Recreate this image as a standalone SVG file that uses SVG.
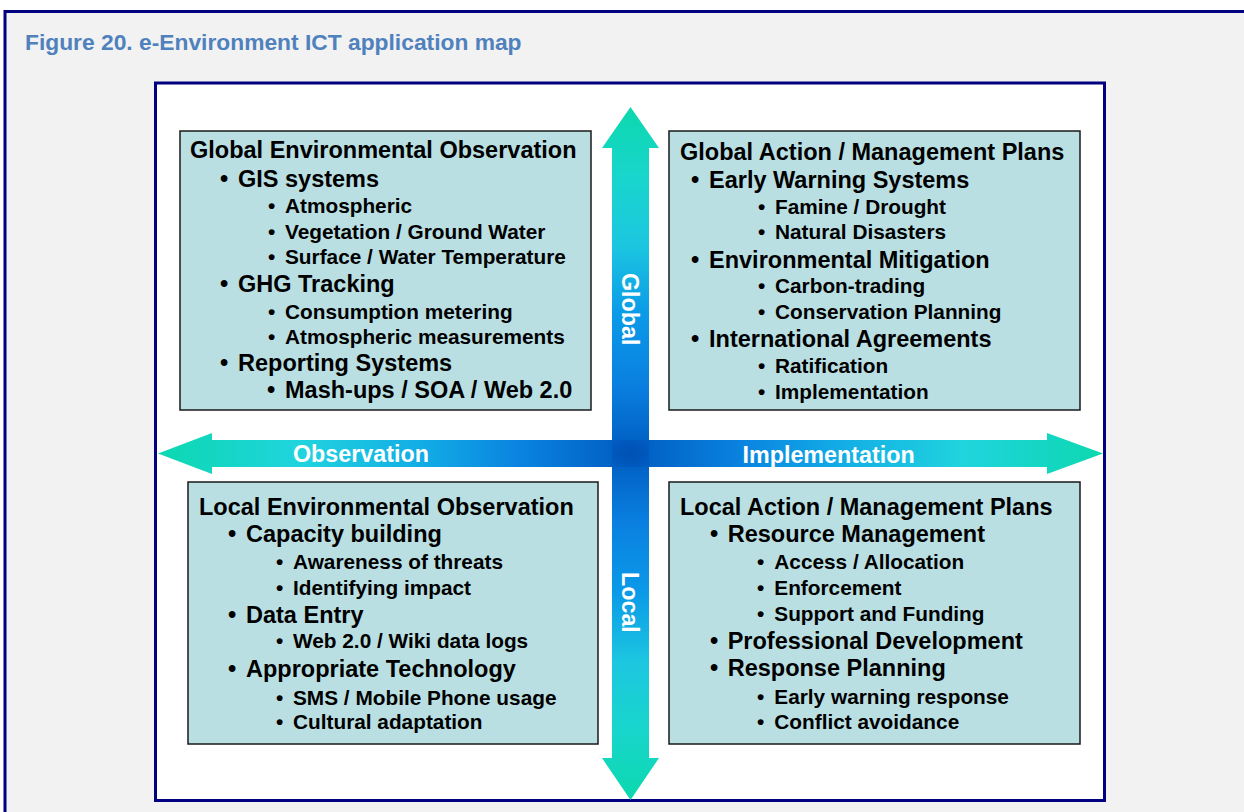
<svg xmlns="http://www.w3.org/2000/svg" width="1244" height="812" viewBox="0 0 1244 812">
  <defs>
    <style>
      text { font-family: "Liberation Sans", Arial, sans-serif; font-weight: bold; }
      .title { font-size: 22.8px; fill: #4f81bd; }
      .hd { font-size: 23.5px; fill: #000; }
      .mn { font-size: 23.5px; fill: #000; }
      .sb { font-size: 20.8px; fill: #000; }
      .lbl { font-size: 23.3px; fill: #ffffff; }
      .box { fill: #b9dfe3; stroke: #1a1a1a; stroke-width: 1.5; }
    </style>
    <linearGradient id="gv" gradientUnits="userSpaceOnUse" x1="0" y1="107" x2="0" y2="800">
      <stop offset="0" stop-color="#0cd8ae"/>
      <stop offset="0.1" stop-color="#18d6cc"/>
      <stop offset="0.2" stop-color="#1cc6e0"/>
      <stop offset="0.3" stop-color="#0a9ae8"/>
      <stop offset="0.4" stop-color="#0a80e0"/>
      <stop offset="0.5" stop-color="#005cc0"/>
      <stop offset="0.6" stop-color="#0a80e0"/>
      <stop offset="0.7" stop-color="#0a9ae8"/>
      <stop offset="0.8" stop-color="#1cc6e0"/>
      <stop offset="0.9" stop-color="#18d6cc"/>
      <stop offset="1" stop-color="#0cd8ae"/>
    </linearGradient>
    <linearGradient id="gh" gradientUnits="userSpaceOnUse" x1="158" y1="0" x2="1103" y2="0">
      <stop offset="0" stop-color="#0cd8b0"/>
      <stop offset="0.15" stop-color="#20d4de"/>
      <stop offset="0.28" stop-color="#12ace6"/>
      <stop offset="0.38" stop-color="#0a84e0"/>
      <stop offset="0.5" stop-color="#005cc0"/>
      <stop offset="0.62" stop-color="#0a84e0"/>
      <stop offset="0.72" stop-color="#12ace6"/>
      <stop offset="0.85" stop-color="#20d4de"/>
      <stop offset="1" stop-color="#0cd8b0"/>
    </linearGradient>
    <radialGradient id="gc" cx="630.5" cy="453.5" r="30" gradientUnits="userSpaceOnUse">
      <stop offset="0" stop-color="#0050b4" stop-opacity="0.9"/>
      <stop offset="1" stop-color="#0050b4" stop-opacity="0"/>
    </radialGradient>
  </defs>

  <rect x="0" y="0" width="1244" height="812" fill="#ffffff"/>
  <rect x="5" y="11.5" width="1260" height="820" fill="#f2f2f2" stroke="#000080" stroke-width="3"/>
  <text class="title" x="25" y="50">Figure 20. e-Environment ICT application map</text>

  <rect id="panel" x="155.5" y="83" width="949" height="717.5" fill="#ffffff" stroke="#000080" stroke-width="3"/>

  <g id="connectors">
    <path fill="url(#gh)" d="M158,453.5 L212,433 L212,440 L1047,440 L1047,433 L1103,453.5 L1047,474 L1047,467 L212,467 L212,474 Z"/>
    <path fill="url(#gv)" d="M630.5,107 L659,148 L649,148 L649,758 L659,758 L630.5,800 L602,758 L612,758 L612,148 L602,148 Z"/>
    <path fill="url(#gc)" d="M612,440 L649,440 L649,467 L612,467 Z"/>
    <text class="lbl" x="293" y="461.5">Observation</text>
    <text class="lbl" x="742.5" y="462.5">Implementation</text>
    <text class="lbl" transform="translate(622,273) rotate(90)">Global</text>
    <text class="lbl" transform="translate(622,572) rotate(90)">Local</text>
  </g>

  <g id="global-observation">
    <rect class="box" x="180" y="131" width="411" height="279"/>
    <text class="hd" x="190" y="158.3">Global Environmental Observation</text>
    <text class="mn" y="186.7"><tspan x="220">•</tspan><tspan x="238">GIS systems</tspan></text>
    <text class="sb" y="213.3"><tspan x="268">•</tspan><tspan x="285">Atmospheric</tspan></text>
    <text class="sb" y="239.3"><tspan x="268">•</tspan><tspan x="285">Vegetation / Ground Water</tspan></text>
    <text class="sb" y="264.3"><tspan x="268">•</tspan><tspan x="285">Surface / Water Temperature</tspan></text>
    <text class="mn" y="291.7"><tspan x="220">•</tspan><tspan x="238">GHG Tracking</tspan></text>
    <text class="sb" y="319.3"><tspan x="268">•</tspan><tspan x="285">Consumption metering</tspan></text>
    <text class="sb" y="344.3"><tspan x="268">•</tspan><tspan x="285">Atmospheric measurements</tspan></text>
    <text class="mn" y="370.7"><tspan x="220">•</tspan><tspan x="238">Reporting Systems</tspan></text>
    <text class="mn" y="397.7"><tspan x="267">•</tspan><tspan x="285">Mash-ups / SOA / Web 2.0</tspan></text>
  </g>

  <g id="global-action">
    <rect class="box" x="669" y="131" width="411" height="279"/>
    <text class="hd" x="680" y="159.5">Global Action / Management Plans</text>
    <text class="mn" y="187.7"><tspan x="691">•</tspan><tspan x="709">Early Warning Systems</tspan></text>
    <text class="sb" y="214.3"><tspan x="758">•</tspan><tspan x="775">Famine / Drought</tspan></text>
    <text class="sb" y="239.3"><tspan x="758">•</tspan><tspan x="775">Natural Disasters</tspan></text>
    <text class="mn" y="267.7"><tspan x="691">•</tspan><tspan x="709">Environmental Mitigation</tspan></text>
    <text class="sb" y="293.3"><tspan x="758">•</tspan><tspan x="775">Carbon-trading</tspan></text>
    <text class="sb" y="319.3"><tspan x="758">•</tspan><tspan x="775">Conservation Planning</tspan></text>
    <text class="mn" y="346.7"><tspan x="691">•</tspan><tspan x="709">International Agreements</tspan></text>
    <text class="sb" y="373.3"><tspan x="758">•</tspan><tspan x="775">Ratification</tspan></text>
    <text class="sb" y="399.3"><tspan x="758">•</tspan><tspan x="775">Implementation</tspan></text>
  </g>

  <g id="local-observation">
    <rect class="box" x="188" y="482" width="410" height="262"/>
    <text class="hd" x="199" y="514.7">Local Environmental Observation</text>
    <text class="mn" y="542"><tspan x="228">•</tspan><tspan x="246">Capacity building</tspan></text>
    <text class="sb" y="568.7"><tspan x="276">•</tspan><tspan x="293">Awareness of threats</tspan></text>
    <text class="sb" y="594.7"><tspan x="276">•</tspan><tspan x="293">Identifying impact</tspan></text>
    <text class="mn" y="623"><tspan x="228">•</tspan><tspan x="246">Data Entry</tspan></text>
    <text class="sb" y="648"><tspan x="276">•</tspan><tspan x="293">Web 2.0 / Wiki data logs</tspan></text>
    <text class="mn" y="677.3"><tspan x="228">•</tspan><tspan x="246">Appropriate Technology</tspan></text>
    <text class="sb" y="704.7"><tspan x="276">•</tspan><tspan x="293">SMS / Mobile Phone usage</tspan></text>
    <text class="sb" y="728.7"><tspan x="276">•</tspan><tspan x="293">Cultural adaptation</tspan></text>
  </g>

  <g id="local-action">
    <rect class="box" x="669" y="482" width="411" height="262"/>
    <text class="hd" x="680" y="514.7">Local Action / Management Plans</text>
    <text class="mn" y="542.3"><tspan x="710">•</tspan><tspan x="727.7">Resource Management</tspan></text>
    <text class="sb" y="568.7"><tspan x="757">•</tspan><tspan x="774.3">Access / Allocation</tspan></text>
    <text class="sb" y="594.7"><tspan x="757">•</tspan><tspan x="774.3">Enforcement</tspan></text>
    <text class="sb" y="620.7"><tspan x="757">•</tspan><tspan x="774.3">Support and Funding</tspan></text>
    <text class="mn" y="648.7"><tspan x="710">•</tspan><tspan x="727.7">Professional Development</tspan></text>
    <text class="mn" y="676.3"><tspan x="710">•</tspan><tspan x="727.7">Response Planning</tspan></text>
    <text class="sb" y="704"><tspan x="757">•</tspan><tspan x="774.3">Early warning response</tspan></text>
    <text class="sb" y="728.7"><tspan x="757">•</tspan><tspan x="774.3">Conflict avoidance</tspan></text>
  </g>
</svg>
